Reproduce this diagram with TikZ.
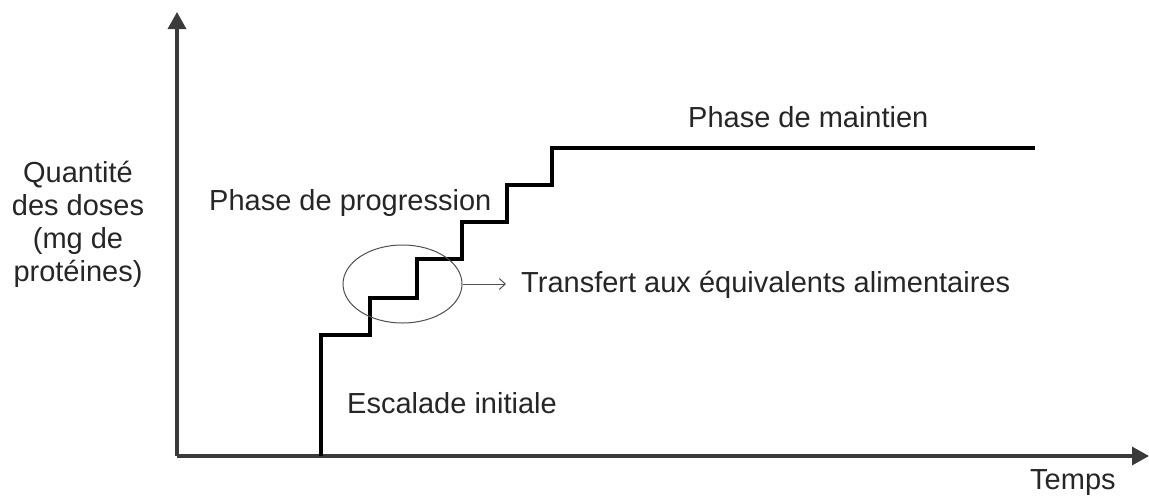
\documentclass[tikz,border=0pt]{standalone}
\usepackage{fontspec}
\setmainfont{Liberation Sans}
\usetikzlibrary{arrows.meta}
\usetikzlibrary{shapes.geometric}
\definecolor{axisgray}{HTML}{3A3A3A}
\definecolor{inkgray}{HTML}{262626}
\definecolor{ringgray}{HTML}{505050}
\tikzset{
  axisline/.style={draw=axisgray, line width=3.2pt, -{Triangle[length=17pt,width=18pt]}},
  stairs/.style={draw=black, line width=3.4pt, line join=miter},
  ring/.style={draw=ringgray, line width=1pt, ellipse},
  pointer/.style={draw=ringgray, line width=1pt, -{Straight Barb[length=6pt,width=11pt]}},
  lbl/.style={text=inkgray, inner sep=0pt, font=\fontsize{29}{33}\selectfont},
}
\begin{document}
\begin{tikzpicture}[x=1pt,y=-1pt]
  \useasboundingbox[fill=white] (0,0) rectangle (1149,499);

  % axes
  \coordinate (origin) at (177,456);
  \coordinate (ytip) at (177,12);
  \coordinate (xtip) at (1149,456);
  \draw[axisline] (origin) -- (ytip);
  \draw[axisline] (origin) -- (xtip);

  % dose staircase
  \coordinate (s0) at (321,456);
  \coordinate (s1) at (321,335);
  \coordinate (s2) at (370,335);
  \coordinate (s3) at (370,298);
  \coordinate (s4) at (417,298);
  \coordinate (s5) at (417,259);
  \coordinate (s6) at (462,259);
  \coordinate (s7) at (462,222);
  \coordinate (s8) at (507,222);
  \coordinate (s9) at (507,185);
  \coordinate (s10) at (552,185);
  \coordinate (s11) at (552,148);
  \coordinate (s12) at (1035,148);
  \draw[stairs] (s0) -- (s1) -- (s2) -- (s3) -- (s4) -- (s5) -- (s6)
    -- (s7) -- (s8) -- (s9) -- (s10) -- (s11) -- (s12);

  % highlighted transfer step
  \node[ring, minimum width=119pt, minimum height=78pt, inner sep=0pt] (ring) at (402.5,284) {};

  % labels
  \node[lbl, anchor=base west] (maint) at (688,127) {Phase de maintien};
  \node[lbl, anchor=base west] (prog) at (209,210) {Phase de progression};
  \node[lbl, anchor=base west] (transf) at (521,292) {Transfert aux équivalents alimentaires};
  \node[lbl, anchor=base west] (escal) at (347,413) {Escalade initiale};
  \node[lbl, anchor=base west] (temps) at (1030,489) {Temps};
  \node[lbl, align=center] (qty) at (78,224) {Quantité\\des doses\\(mg de\\protéines)};

  \draw[pointer] (ring.east) -- (ring.east -| transf.west) [shorten >=15pt];
\end{tikzpicture}
\end{document}
